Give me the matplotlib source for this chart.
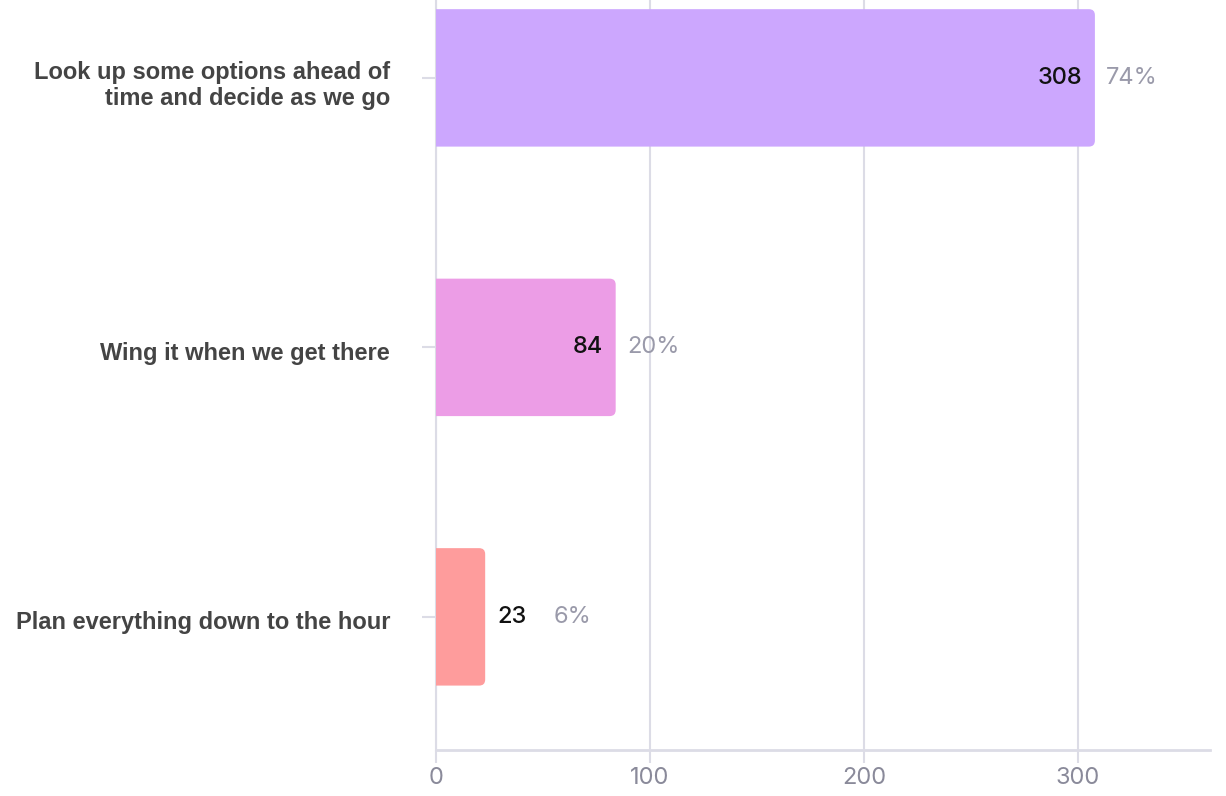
import matplotlib
matplotlib.use('Agg')
import matplotlib.pyplot as plt
import matplotlib.transforms as mtransforms
from matplotlib.patches import FancyBboxPatch

# Data %%
answers = ['Plan everything down to the hour',
           'Wing it when we get there',
           'Look up some options ahead of\ntime and decide as we go']
counts = [23, 84, 308]
percents = ['6%', '20%', '74%']
colors = ['#fe9c9c', '#ec9de6', '#cca7fe']
xticks = [0, 100, 200, 300]

fig = plt.figure(figsize=(12.26, 7.96), dpi=100)
ax = fig.add_axes([0.3556, 0.0578, 0.6317, 0.9422])

pos = list(range(len(answers)))
bars = ax.barh(pos, counts, height=0.51, color=colors, zorder=3)

ax.set_xlim(0, 362)
ax.set_ylim(-0.494, 2.289)

# rounded right corners - swap the bars for rounded boxes %%
px_x = 1 / 2.139   # data units per pixel in x
px_y = 1 / 269.5   # data units per pixel in y
for b in bars:
    x0, y0 = b.get_x(), b.get_y()
    w, h = b.get_width(), b.get_height()
    r = FancyBboxPatch((x0 - 5, y0), w + 5, h,
                       boxstyle='round,pad=0,rounding_size=%f' % (6 * px_x),
                       mutation_aspect=px_y / px_x,
                       facecolor=b.get_facecolor(), edgecolor='none', zorder=3)
    ax.add_patch(r)
    b.set_visible(False)

# value labels %%
for y, c, p in zip(pos, counts, percents):
    if c > 50:
        ax.annotate(str(c), (c, y), xytext=(-9, 0), textcoords='offset points',
                    ha='right', va='center', color='#111111', zorder=4,
                    fontsize=17, family='Inter', fontweight='medium')
        ax.annotate(p, (c, y), xytext=(8, 0), textcoords='offset points',
                    ha='left', va='center', color='#9a9aaa', zorder=4,
                    fontsize=17, family='Inter')
    else:
        ax.annotate(str(c), (c, y), xytext=(9, 0), textcoords='offset points',
                    ha='left', va='center', color='#111111', zorder=4,
                    fontsize=17, family='Inter', fontweight='medium')
        ax.annotate(p, (c, y), xytext=(49, 0), textcoords='offset points',
                    ha='left', va='center', color='#9a9aaa', zorder=4,
                    fontsize=17, family='Inter')

ax.set_yticks(pos)
ax.set_yticklabels(answers, fontsize=17, fontweight='bold',
                   family='Liberation Sans', color='#444444')
ax.set_xticks(xticks)
ax.set_xticklabels([str(t) for t in xticks], fontsize=17, family='Inter',
                   color='#8a8a9a')

ax.tick_params(axis='y', length=10, color='#dcdce6', width=1.5, pad=23)
ax.tick_params(axis='x', length=9, color='#dcdce6', width=1.5, pad=3)

# nudge category labels a little below their ticks (after tick_params)
shift = mtransforms.ScaledTranslation(0, -2.5 / 72, fig.dpi_scale_trans)
for lbl in ax.get_yticklabels():
    lbl.set_transform(lbl.get_transform() + shift)

ax.grid(axis='x', color='#dcdce6', linewidth=1.5, zorder=0)
for s in ['top', 'right']:
    ax.spines[s].set_visible(False)
ax.spines['left'].set_color('#dcdce6')
ax.spines['left'].set_linewidth(1.5)
ax.spines['bottom'].set_color('#dcdce6')
ax.spines['bottom'].set_linewidth(2)

plt.savefig('out.png', dpi=100)
